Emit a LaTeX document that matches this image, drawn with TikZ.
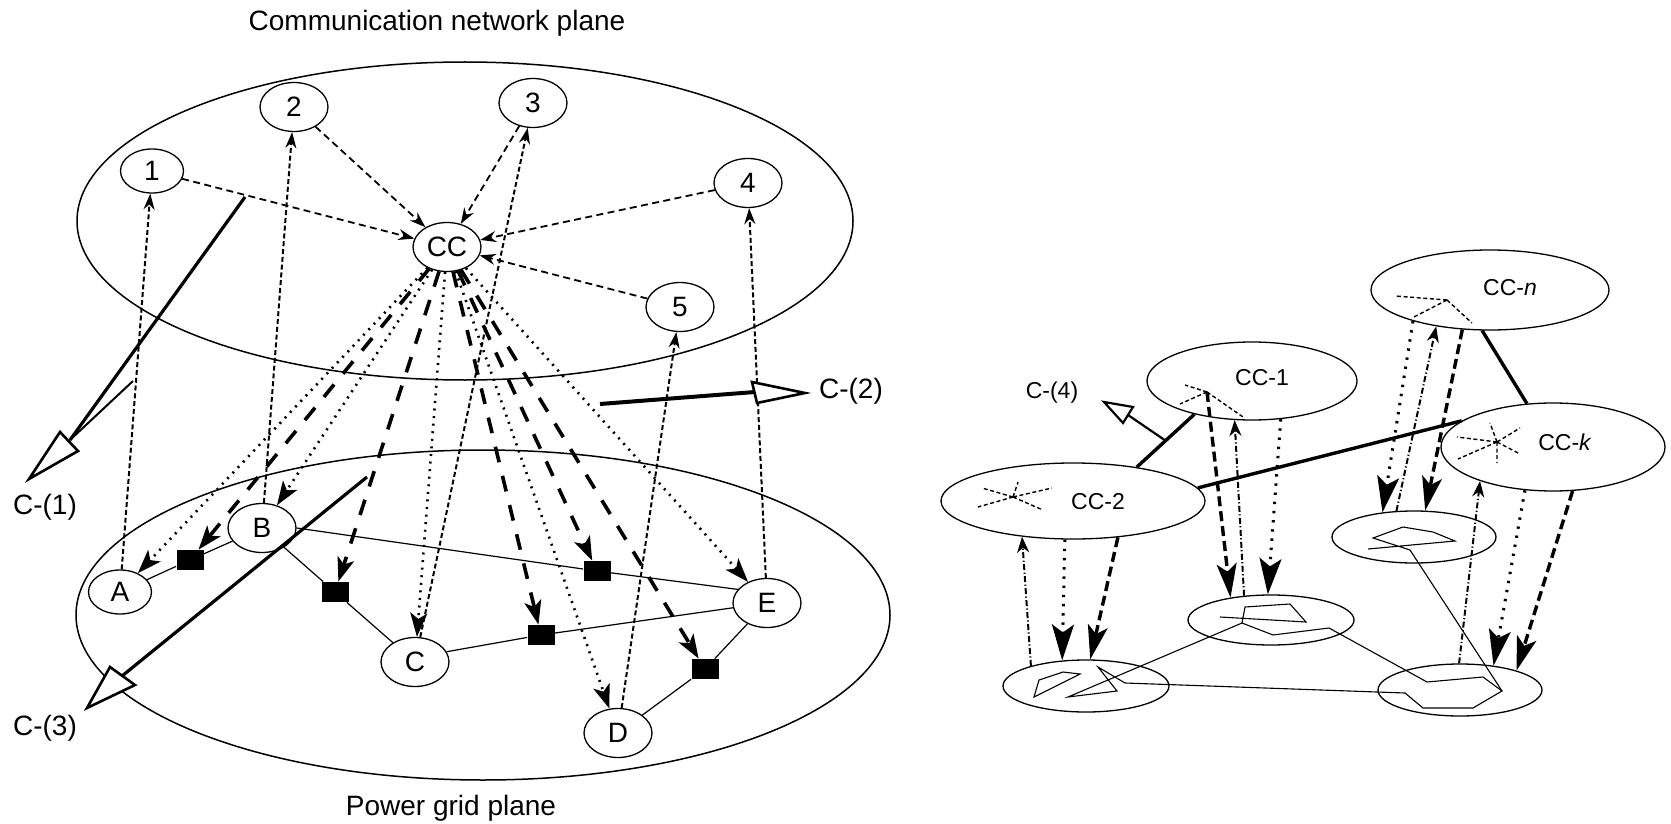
\documentclass[tikz,border=0pt]{standalone}
\usepackage{fontspec}
\setmainfont{Liberation Sans}
\usetikzlibrary{arrows.meta,shapes.geometric,calc}
\begin{document}
\begin{tikzpicture}[x=0.5pt,y=-0.5pt,
  lab/.style={font=\fontsize{14}{16}\selectfont,inner sep=0pt},
  rlab/.style={font=\fontsize{11.5}{14}\selectfont,inner sep=0pt},
  nd/.style={ellipse,draw,line width=0.65pt,fill=white,minimum width=34pt,minimum height=24.5pt,inner sep=0pt,font=\fontsize{14}{16}\selectfont},
  ndsmall/.style={nd,minimum width=31.5pt,minimum height=22pt},
  rnd/.style={ellipse,draw,line width=0.65pt,inner sep=0pt},
  sw/.style={rectangle,fill=black,minimum width=13.5pt,minimum height=10pt,inner sep=0pt},
  plane/.style={line width=0.75pt},
  edgel/.style={line width=0.6pt},
  poly/.style={line width=0.55pt,line join=miter},
  upl/.style={line width=1pt,dash pattern=on 2.5pt off 1.4pt,-{Stealth[length=8pt,width=5.5pt]}},
  topl/.style={line width=0.9pt,dash pattern=on 3.5pt off 2.2pt,-{Stealth[length=8pt,width=5.5pt]}},
  dotl/.style={line width=1.3pt,dash pattern=on 1pt off 2.8pt,-{Stealth[length=12pt,width=8.5pt,inset=3pt]}},
  thkd/.style={line width=1.8pt,dash pattern=on 8pt off 7pt,-{Stealth[length=12pt,width=8.5pt,inset=3pt]}},
  rthk/.style={line width=1.7pt,dash pattern=on 5pt off 2.5pt,-{Stealth[length=17pt,width=10pt,inset=4pt]}},
  rdot/.style={line width=1.5pt,dash pattern=on 1.2pt off 3.4pt,-{Stealth[length=18pt,width=11pt,inset=4pt]}},
  rdd/.style={line width=1pt,dash pattern=on 3pt off 1.2pt on 0.6pt off 1.2pt,-{Stealth[length=8pt,width=6pt]}},
  starl/.style={line width=0.7pt,dash pattern=on 2pt off 1.3pt},
  thk/.style={line width=1.7pt},
  tri/.style={line width=1.3pt,fill=white,line join=miter}
]
\useasboundingbox (0,0) rectangle (1671,824);

% ---------------- left: two planes ----------------
\node[lab] (title) at (437,23) {Communication network plane};
\node[lab] (pgp) at (451,808) {Power grid plane};
\draw[plane] (465,221) ellipse [x radius=194pt,y radius=79.5pt];
\draw[plane] (483,615) ellipse [x radius=203.5pt,y radius=82.5pt];

\node[ndsmall] (n1) at (152,171) {1};
\node[nd] (n2) at (294,107) {2};
\node[nd] (n3) at (533,103) {3};
\node[nd] (n4) at (748,183) {4};
\node[nd] (n5) at (680,307) {5};
\node[nd] (cc) at (447,247) {CC};

\node[ndsmall] (A) at (120,592) {A};
\node[nd] (B) at (262,528) {B};
\node[nd] (C) at (415,662) {C};
\node[nd] (D) at (618,733) {D};
\node[nd] (E) at (767,603) {E};

\node[sw] (q1) at (190,560) {};
\node[sw] (q2) at (335,592) {};
\node[sw] (q3) at (597,571) {};
\node[sw] (q4) at (541,635) {};
\node[sw] (q5) at (705,669) {};

% power lines
\draw[edgel] (A) -- (q1) -- (B);
\draw[edgel] (B) -- (q2) -- (C);
\draw[edgel] (B.0) -- (q3) -- (E.155);
\draw[edgel] (C.18) -- (q4) -- (E.188);
\draw[edgel] (E) -- (q5) -- (D);

% communication plane links
\draw[topl] (n1) -- (cc);
\draw[topl] (n2) -- (cc);
\draw[topl] (n3) -- (cc);
\draw[topl] (n4) -- (cc);
\draw[topl] (n5) -- (cc);

% upward measurement links
\draw[upl] (A) -- (n1);
\draw[upl] (B) -- (n2);
\draw[upl] (C) -- (n3);
\draw[upl] (D) -- (n5);
\draw[upl] (E) -- (n4);

% CC to buses (dotted)
\draw[dotl] (cc) -- (A);
\draw[dotl] (cc) -- (B);
\draw[dotl] (cc) -- (C);
\draw[dotl] (cc) -- (D);
\draw[dotl] (cc) -- (E);

% CC to breakers (thick dashed)
\draw[thkd] (cc) -- (q1);
\draw[thkd] (cc) -- (q2);
\draw[thkd] (cc) -- (q3);
\draw[thkd] (cc) -- (q4);
\draw[thkd] (cc) -- (q5);

% C-(1)
\coordinate (c1s) at (245,197);
\coordinate (c1u) at (133,381);
\coordinate (c1m) at (70,440);
\coordinate (c1a) at (60,432);
\coordinate (c1b) at (78,451);
\coordinate (c1t) at (29,479);
\draw[line width=1.6pt] (c1s) -- (c1m);
\draw[line width=1pt] (c1u) -- (c1m);
\draw[tri] (c1a) -- (c1t) -- (c1b) -- cycle;
\node[lab] (c1l) at (45,507) {C-(1)};

% C-(2)
\coordinate (c2s) at (600,404);
\coordinate (c2m) at (755,392);
\coordinate (c2a) at (752,382);
\coordinate (c2b) at (757,403);
\coordinate (c2t) at (805,393);
\draw[line width=2pt] (c2s) -- (c2m);
\draw[tri] (c2a) -- (c2t) -- (c2b) -- cycle;
\node[lab] (c2l) at (851,391) {C-(2)};

% C-(3)
\coordinate (c3s) at (367,477);
\coordinate (c3m) at (122,676);
\coordinate (c3a) at (110,667);
\coordinate (c3b) at (135,685);
\coordinate (c3t) at (87,708);
\draw[line width=1.6pt] (c3s) -- (c3m);
\draw[tri] (c3a) -- (c3t) -- (c3b) -- cycle;
\node[lab] (c3l) at (45,728) {C-(3)};

% ---------------- right: control centres ----------------
\node[rnd,minimum width=105pt,minimum height=39pt] (cc1) at (1252,381) {};
\node[rnd,minimum width=132pt,minimum height=38pt] (cc2) at (1073,501) {};
\node[rnd,minimum width=119pt,minimum height=40pt] (ccn) at (1490,290) {};
\node[rnd,minimum width=112pt,minimum height=44pt] (cck) at (1553,447) {};
\node[rlab] (cc1l) at (1262,378) {CC-1};
\node[rlab] (cc2l) at (1098,502) {CC-2};
\node[rlab] (ccnl) at (1510,288) {CC-\textit{n}};
\node[rlab] (cckl) at (1565,442) {CC-\textit{k}};

\node[rnd,minimum width=83pt,minimum height=26pt] (g1) at (1086,686) {};
\node[rnd,minimum width=83pt,minimum height=25pt] (g2) at (1271,620) {};
\node[rnd,minimum width=82pt,minimum height=26pt] (g3) at (1414,537) {};
\node[rnd,minimum width=82pt,minimum height=26pt] (g4) at (1460,690) {};

% stars (local networks)
\coordinate (st2) at (1013,497);
\draw[starl] (st2) -- (982,488) (st2) -- (1052,488) (st2) -- (978,507) (st2) -- (1043,510) (st2) -- (1018,482);
\coordinate (st1) at (1207,392);
\draw[starl] (st1) -- (1185,385) (st1) -- (1180,404) (st1) -- (1243,417);
\coordinate (stn) at (1447,300);
\draw[starl] (stn) -- (1395,296) (stn) -- (1412,318) (stn) -- (1472,323);
\coordinate (stk) at (1497,442);
\draw[starl] (stk) -- (1457,437) (stk) -- (1520,428) (stk) -- (1458,459) (stk) -- (1520,454) (stk) -- (1490,423) (stk) -- (1497,463);

% grid polygons
\draw[poly] (1034,697) -- (1039,680) -- (1063,672) -- (1080,674) -- cycle;
\draw[poly] (1220,617) -- (1306,622) -- (1290,604) -- (1245,607) -- (1242,623) -- (1273,635) -- (1329,628) -- (1427,682) -- (1483,677) -- (1502,691) -- (1473,708) -- (1423,708) -- (1405,693) -- (1125,683) -- (1098,667) -- (1117,691) -- (1068,697) -- (1242,623);
\draw[poly] (1502,691) -- (1410,550) -- (1373,538) -- (1403,527) -- (1433,532) -- (1455,541) -- (1368,549);

% thick inter-CC links
\draw[thk] (cc2.6) -- (cck.164);
\draw[thk] (ccn.259) -- (cck.121);
\draw[thk] (cc2.28) -- (cc1.210);

% C-(4)
\coordinate (c4s) at ($(cc2.28)!0.5!(cc1.210)$);
\coordinate (c4m) at (1128,415);
\coordinate (c4a) at (1123,423);
\coordinate (c4b) at (1133,407);
\coordinate (c4t) at (1104,402);
\draw[line width=1.1pt] (c4s) -- (c4m);
\draw[tri,line width=1.1pt] (c4a) -- (c4t) -- (c4b) -- cycle;
\node[rlab] (c4l) at (1052,393) {C-(4)};

% vertical links
\draw[rdd] (g1.160) -- (cc2.215);
\draw[rdot] (cc2.258) -- (g1.133);
\draw[rthk] (cc2.321) -- (g1.81);

\draw[rthk] (st1) -- (g2.151);
\draw[rdd] (g2.138) -- (cc1.246);
\draw[rdot] (cc1.307) -- (g2.97);

\draw[rdot] (ccn.202) -- (g3.142);
\draw[rdd] (g3.124) -- (ccn.214);
\draw[rthk] (ccn.235) -- (g3.67);

\draw[rdd] (g4.92) -- (cck.205);
\draw[rdot] (cck.237) -- (g4.36);
\draw[rthk] (cck.294) -- (g4.19);
\end{tikzpicture}
\end{document}
